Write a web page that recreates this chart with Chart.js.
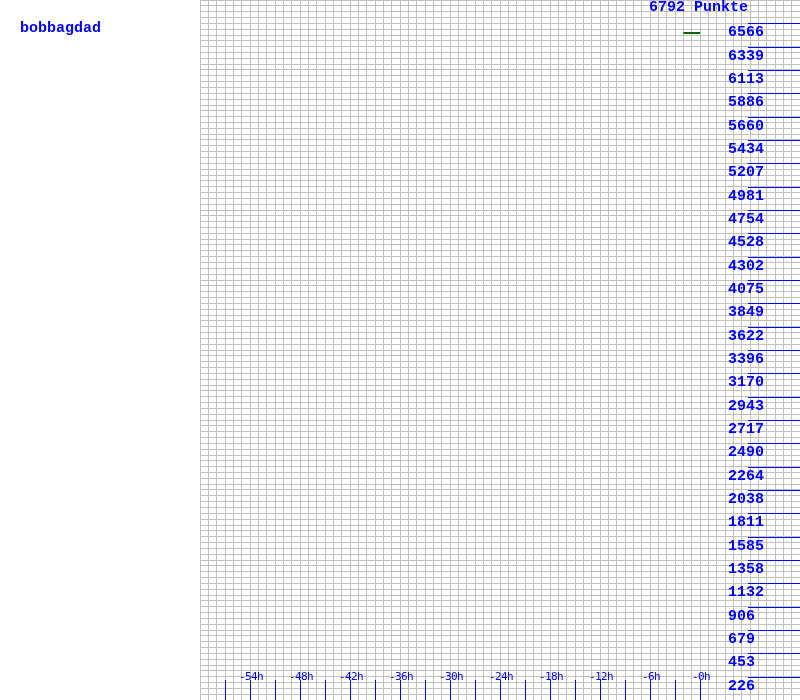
<!DOCTYPE html>
<html><head><meta charset="utf-8">
<script src="https://cdn.jsdelivr.net/npm/chart.js@4.4.0/dist/chart.umd.min.js"></script>
<style>html,body{margin:0;padding:0;background:#fff;overflow:hidden}#wrap{width:800px;height:700px;position:relative}canvas{display:block}</style>
</head><body><div id="wrap"><canvas id="c" width="800" height="700"></canvas></div>
<script>
const playerName = 'bobbagdad';
const pointsMax = 6792;
const pointsUnit = 'Punkte';
const hours = [-2, -1, 0];
const points = [6472, 6472, 6472];
const yTickLabels = ['226','453','679','906','1132','1358','1585','1811','2038','2264','2490','2717','2943','3170','3396','3622','3849','4075','4302','4528','4754','4981','5207','5434','5660','5886','6113','6339','6566'];
const xTickHours = [-54,-48,-42,-36,-30,-24,-18,-12,-6,0];
const xTickLabels = ['-54h','-48h','-42h','-36h','-30h','-24h','-18h','-12h','-6h','-0h'];
const xMarkHours = [-57,-54,-51,-48,-45,-42,-39,-36,-33,-30,-27,-24,-21,-18,-15,-12,-9,-6,-3,0];
const xMin = -60, xMax = 12;
const yDivisions = 30, yGridPerDivision = 4;

const BLUE = '#0000ff';
const overlay = {
  id: 'overlay',
  afterDraw(chart) {
    const ctx = chart.ctx, xs = chart.scales.x, ys = chart.scales.y, ca = chart.chartArea;
    ctx.save();
    ctx.strokeStyle = BLUE; ctx.fillStyle = BLUE; ctx.lineWidth = 1;
    ctx.font = 'bold 15px "Liberation Mono"';
    ctx.textBaseline = 'alphabetic'; ctx.textAlign = 'left';
    yTickLabels.forEach((lab, i) => {
      const v = pointsMax * (i + 1) / yDivisions;
      const y = Math.round(ys.getPixelForValue(v)) + 0.5;
      ctx.beginPath(); ctx.moveTo(ca.right - 52, y); ctx.lineTo(ca.right, y); ctx.stroke();
      ctx.fillText(lab, ca.right - 72, Math.round(y + 12.5));
    });
    ctx.fillText(pointsMax + ' ' + pointsUnit, ca.right - 151, Math.round(ys.getPixelForValue(pointsMax)) + 11);
    ctx.fillText(playerName, 20, 32);
    xMarkHours.forEach(h => {
      const x = Math.round(xs.getPixelForValue(h)) + 0.5;
      ctx.beginPath(); ctx.moveTo(x, ca.bottom - 20); ctx.lineTo(x, ca.bottom); ctx.stroke();
    });
    ctx.font = '11px "DejaVu Sans Mono"';
    try { ctx.letterSpacing = '-0.6px'; } catch (e) {}
    ctx.textAlign = 'center';
    xTickHours.forEach((h, i) => {
      const x = xs.getPixelForValue(h) + 1;
      ctx.fillText(xTickLabels[i], x, ca.bottom - 20);
    });
    ctx.restore();
  }
};

new Chart(document.getElementById('c'), {
  type: 'line',
  data: { datasets: [{
    data: hours.map((h, i) => ({ x: h, y: points[i] })),
    borderColor: '#006400', borderWidth: 2, pointRadius: 0, tension: 0, fill: false
  }] },
  options: {
    responsive: false, animation: false, devicePixelRatio: 1,
    layout: { padding: { left: 200, top: 0, right: 0, bottom: 0 } },
    plugins: { legend: { display: false }, tooltip: { enabled: false }, title: { display: false } },
    scales: {
      x: {
        type: 'linear', min: xMin, max: xMax,
        afterBuildTicks: s => { const t = []; for (let h = xMin; h <= xMax; h++) t.push({ value: h }); s.ticks = t; },
        ticks: { display: false },
        grid: { color: '#c0c0c0', lineWidth: 1, drawTicks: false },
        border: { display: false }
      },
      y: {
        type: 'linear', min: 0, max: pointsMax,
        afterBuildTicks: s => { const n = yDivisions * yGridPerDivision, t = []; for (let k = 0; k <= n; k++) t.push({ value: pointsMax * k / n }); s.ticks = t; },
        ticks: { display: false },
        grid: { color: '#c0c0c0', lineWidth: 1, drawTicks: false },
        border: { display: false }
      }
    }
  },
  plugins: [overlay]
});
</script></body></html>
